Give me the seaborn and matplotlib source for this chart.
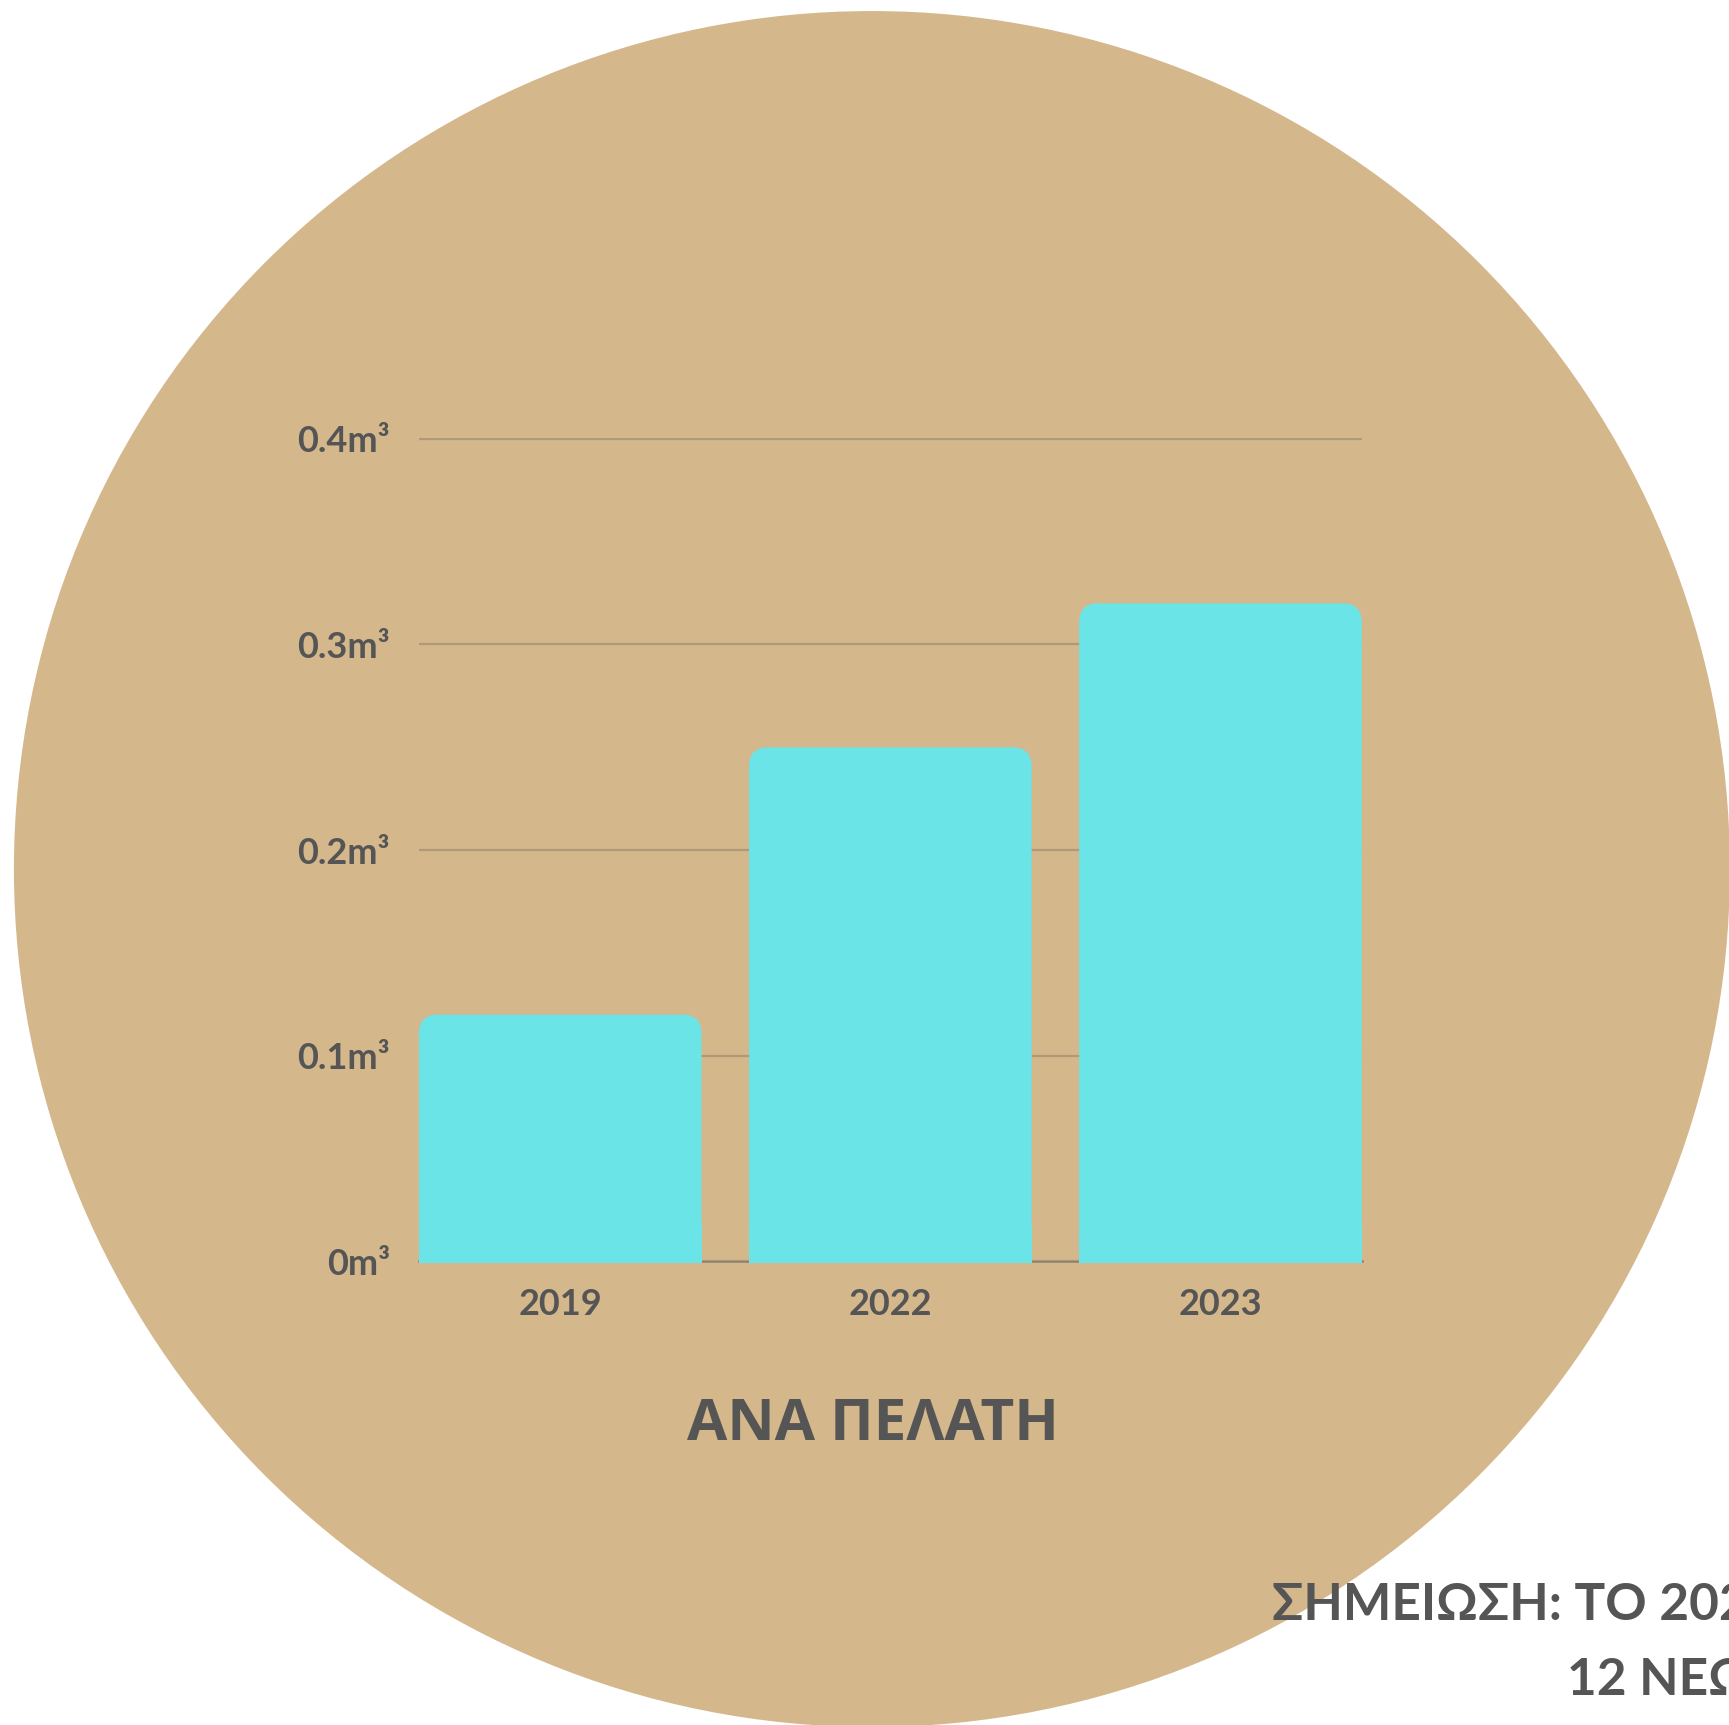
import matplotlib
matplotlib.use("Agg")
import matplotlib.pyplot as plt
import seaborn as sns
import pandas as pd
from matplotlib.patches import Ellipse, FancyBboxPatch, Rectangle
from matplotlib.transforms import IdentityTransform

# data
years = ["2019", "2022", "2023"]
volume_per_client = [0.12, 0.25, 0.32]
y_ticks = [0, 0.1, 0.2, 0.3, 0.4]
y_tick_labels = ["0m³", "0.1m³", "0.2m³", "0.3m³", "0.4m³"]
title_text = "ΑΝΑ ΠΕΛΑΤΗ"
note_lines = ["ΣΗΜΕΙΩΣΗ: ΤΟ 2023", "12 ΝΕΩΝ"]

BG = "#D5B78C"
BAR = "#6AE4E7"
TEXT = "#555555"

sns.set_style("white")
plt.rcParams["font.family"] = ["Lato", "DejaVu Sans"]

fig = plt.figure(figsize=(17.29, 17.25), dpi=100)
fig.patch.set_facecolor("white")

# the big tan disc behind the chart
disc = Ellipse((0.5043, 0.4962), 0.9925, 0.9948, transform=fig.transFigure,
               facecolor=BG, edgecolor="none", zorder=-5)
fig.patches.append(disc)

ax = fig.add_axes([0.2423, 0.2687, 0.5453, 0.4775])
ax.patch.set_alpha(0)

df = pd.DataFrame({"year": years, "value": volume_per_client})
sns.barplot(data=df, x="year", y="value", color=BAR, saturation=1,
            width=0.856, ax=ax)

ax.set_xlim(-0.428, 2.428)
ax.set_ylim(0, 0.4005)
ax.set_yticks(y_ticks)
ax.set_yticklabels(y_tick_labels)
ax.set_xlabel("")
ax.set_ylabel("")
ax.set_axisbelow(True)
ax.yaxis.grid(True, color="#ae9a78", linewidth=1.6)
ax.xaxis.grid(False)
for side in ["top", "right", "left"]:
    ax.spines[side].set_visible(False)
ax.spines["bottom"].set_color("#8a8070")
ax.spines["bottom"].set_linewidth(1.8)
ax.spines["bottom"].set_zorder(0.5)
ax.tick_params(axis="y", length=0, pad=21, labelsize=26, labelcolor=TEXT)
ax.tick_params(axis="x", length=0, pad=19, labelsize=26, labelcolor=TEXT)
for lbl in ax.get_xticklabels() + ax.get_yticklabels():
    lbl.set_fontweight("bold")

# swap seaborn's square bars for ones with rounded top corners
radius = 19
for bar in list(ax.patches):
    bb = bar.get_bbox()
    (x0, y0), (x1, y1) = ax.transData.transform([[bb.x0, bb.y0], [bb.x1, bb.y1]])
    bar.set_visible(False)
    top = FancyBboxPatch((x0, y0), x1 - x0, y1 - y0,
                         boxstyle=f"round,pad=0,rounding_size={radius}",
                         transform=IdentityTransform(), facecolor=BAR,
                         edgecolor="none", zorder=2, clip_on=False)
    # square bottom that also covers the baseline under the bar
    bottom = Rectangle((x0, y0 - 1.5), x1 - x0, radius * 2,
                       transform=IdentityTransform(), facecolor=BAR,
                       edgecolor="none", zorder=2, clip_on=False)
    ax.add_artist(top)
    ax.add_artist(bottom)

fig.text(0.5046, 0.1652, title_text, ha="center", va="baseline",
         fontsize=42, fontweight="bold", color=TEXT,
         family=["Open Sans", "DejaVu Sans"])

# note in the lower right, running off the edge as in the reference
fig.text(1272 / 1729, 0.0609, note_lines[0], ha="left", va="baseline",
         fontsize=37, fontweight="bold", color=TEXT)
fig.text(1567 / 1729, 0.0174, note_lines[1], ha="left", va="baseline",
         fontsize=37, fontweight="bold", color=TEXT)

fig.savefig("out.png", dpi=100)
